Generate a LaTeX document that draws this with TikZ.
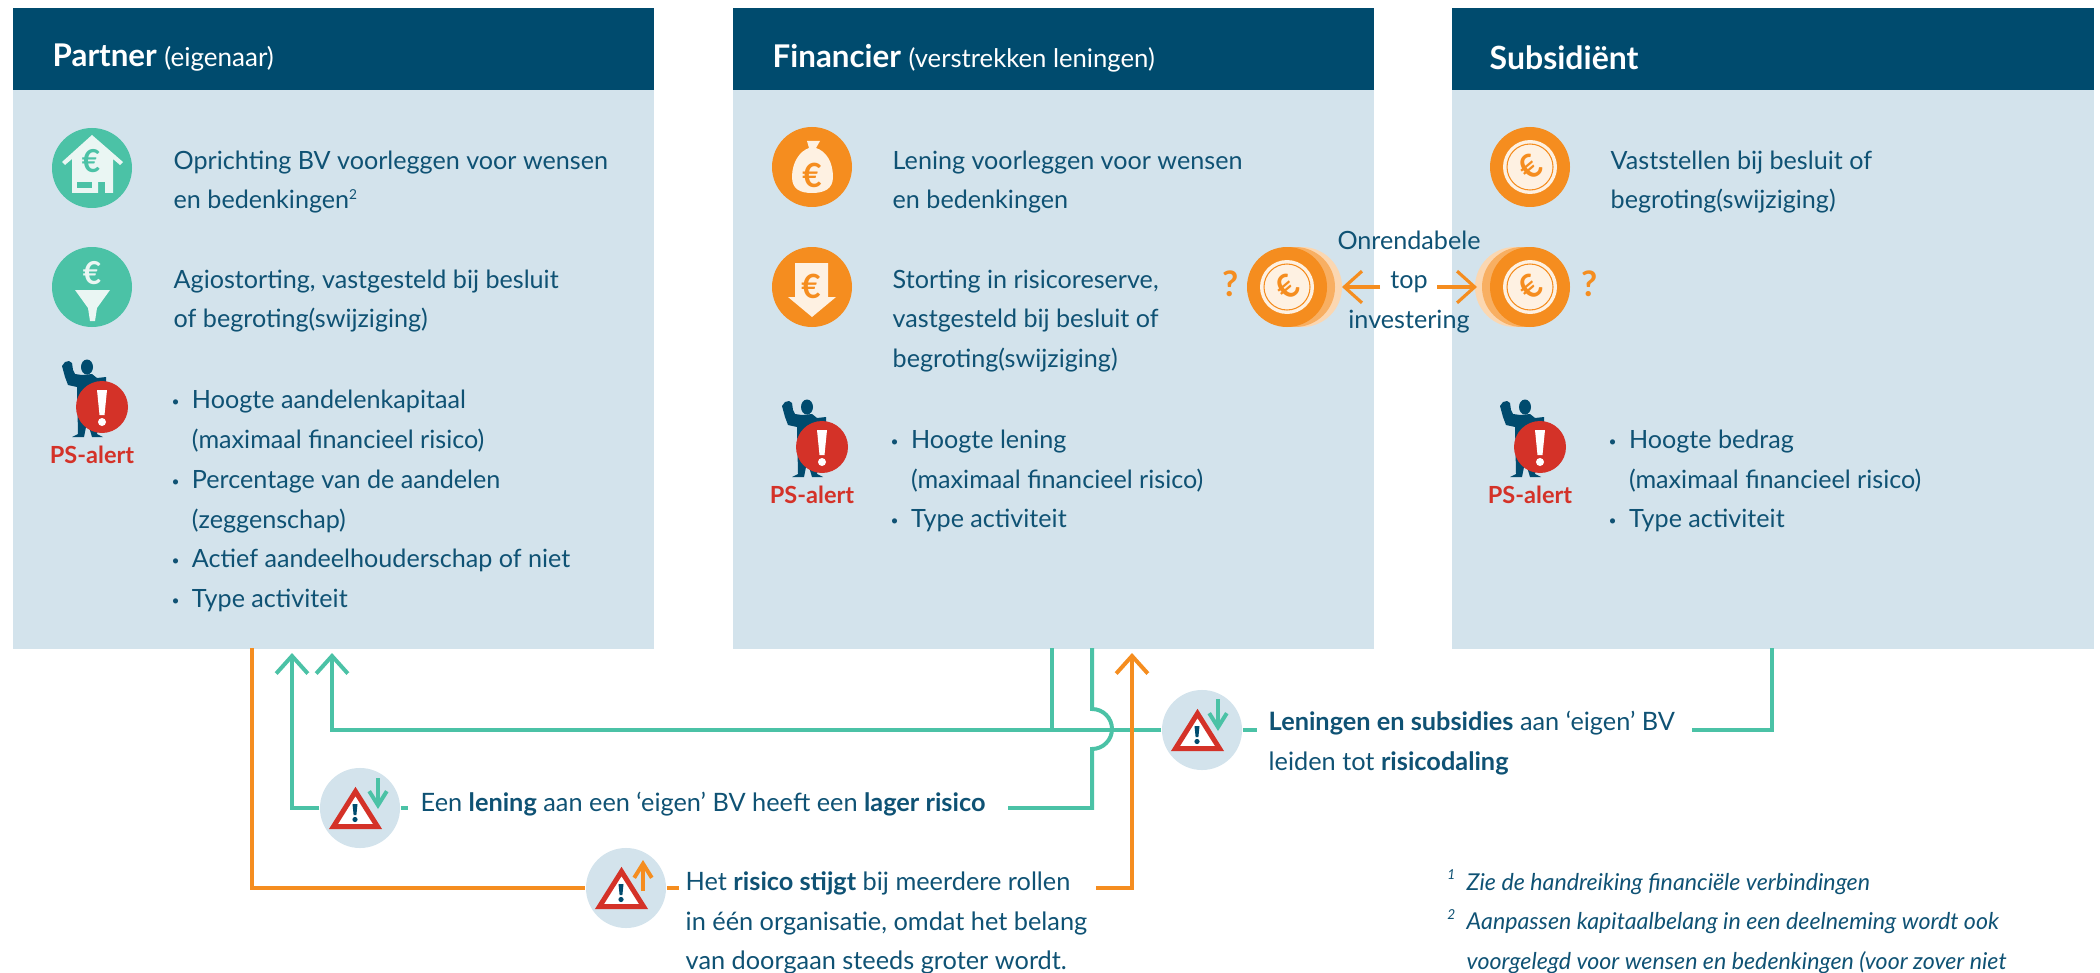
\documentclass[tikz,border=0pt]{standalone}
\usepackage{fontspec}
\setmainfont{Lato}
\usetikzlibrary{arrows.meta}
\definecolor{headblue}{HTML}{004B6E}
\definecolor{boxblue}{HTML}{D3E3EC}
\definecolor{textblue}{HTML}{0F5274}
\definecolor{lineGreen}{HTML}{4BC2A6}
\definecolor{lineOrange}{HTML}{F58D1F}
\definecolor{alertred}{HTML}{D43228}
\definecolor{cream}{HTML}{FEF1E2}
\definecolor{paleteal}{HTML}{EAF6F3}
\newcommand{\bul}{\makebox[5.2pt][l]{\hspace*{-.6pt}\raisebox{.6pt}{\scalebox{.55}{\textbullet}}}}
\newcommand{\ind}{\hspace*{5.2pt}}
\newcommand{\marknum}[1]{\raisebox{2.6pt}{\fontsize{3.9}{4}\selectfont #1}}
\tikzset{
  panel/.style={fill=boxblue,anchor=north west,minimum width=6.41cm,minimum height=6.41cm,inner sep=0},
  headbar/.style={fill=headblue,anchor=north west,minimum width=6.41cm,minimum height=.82cm,inner sep=0},
  headtext/.style={text=white,anchor=west,inner sep=0,font=\fontsize{8.6}{11}\selectfont},
  body/.style={text=textblue,anchor=west,align=left,inner sep=0,font=\fontsize{7.15}{11.34}\selectfont},
  lowtext/.style={body,font=\fontsize{7.2}{11.34}\selectfont},
  note/.style={body,font=\fontsize{6.6}{11.34}\selectfont\itshape},
  midtext/.style={body,anchor=center,align=center},
  euro/.style={inner sep=0,font=\bfseries\fontsize{#1}{#1}\selectfont},
  warn/.style={circle,fill=boxblue,minimum size=.8cm,inner sep=0},
  greenline/.style={draw=lineGreen,line width=1.13pt},
  orangeline/.style={draw=lineOrange,line width=1.13pt},
  barb/.style={-{Straight Barb[length=5pt,width=9pt]}},
  smallbarb/.style={-{Straight Barb[length=4pt,width=5pt]}},
  house/.pic={
    \fill[lineGreen] (0,0) circle[radius=40];
    \fill[paleteal] (0,-33)--(31,-6)--(28,-3)--(21,-9)--(21,25)--(13,25)--(13,14)--(6,14)--(6,25)--(-20,25)--(-20,-9)--(-27,-3)--(-30,-6)--cycle;
    \fill[lineGreen] (-15,14) rectangle (0,20);
    \node[euro=9,text=lineGreen] (-e) at (-1,-7) {€};
  },
  funnel/.pic={
    \fill[lineGreen] (0,0) circle[radius=40];
    \fill[paleteal] (-17,3)--(18,3)--(5,21)--(3,34)--(-2,34)--(-4,21)--cycle;
    \node[euro=9,text=paleteal] (-e) at (0,-14) {€};
  },
  moneybag/.pic={
    \fill[lineOrange] (0,0) circle[radius=40];
    \fill[cream] (-5,-26)--(8,-26)--(4,-19) .. controls (14,-16) and (21,-5) .. (21,10) .. controls (21,22) and (12,26) .. (0,26) .. controls (-12,26) and (-20,22) .. (-20,10) .. controls (-20,-5) and (-12,-16) .. (-3,-19)--cycle;
    \node[euro=9.5,text=lineOrange] (-e) at (0,8) {€};
  },
  downarrow/.pic={
    \fill[lineOrange] (0,0) circle[radius=40];
    \fill[cream] (-17,-24)--(16,-24)--(16,10)--(24,10)--(0,30)--(-24,10)--(-17,10)--cycle;
    \node[euro=9.5,text=lineOrange] (-e) at (-1,-1) {€};
  },
  coinface/.pic={
    \fill[lineOrange] (0,0) circle[radius=40];
    \fill[cream] (0,0) circle[radius=27];
    \draw[lineOrange,line width=.3pt] (0,0) circle[radius=23];
    \node[euro=9.5,text=lineOrange,rotate=40] (-e) at (0,0) {€};
  },
  coinstack/.pic={
    \fill[lineOrange!35!white] (15,0) circle[radius=40];
    \fill[lineOrange!70!white] (8,0) circle[radius=40];
    \pic (-face) at (0,0) {coinface};
  },
  alertman/.pic={
    \fill[headblue] (-5,-40) ellipse[x radius=6,y radius=7.5];
    \fill[headblue] (-30,-41)--(-27,-45)--(-23,-46)--(-20,-44)--(-19,-37)--(-17,-33)--(-10,-32)--(0,-33)--(5,-29)--(14,-30)--(14,-25)--(6,-20)--(6,20)--(5,27)--(11,30)--(0,30)--(-3,20)--(-6,20)--(-8,30)--(-20,30)--(-14,27)--(-15,-20)--(-24,-22)--(-27,-30)--cycle;
    \fill[alertred] (10,0) circle[radius=26];
    \fill[white] (5,-17)--(15,-17)--(12.5,8)--(7.5,8)--cycle;
    \fill[white] (10,15) circle[radius=4];
    \node[inner sep=0,text=alertred,font=\bfseries\fontsize{6.7}{8}\selectfont] (-label) at (0,48) {PS-alert};
  },
  triangle/.pic={
    \draw[alertred,fill=white,line width=1.42pt] (-4.5,-16.5)--(17.5,18.5)--(-26.5,18.5)--cycle;
    \fill[headblue] (-7.5,-4)--(-2.5,-4)--(-3.6,7)--(-6.4,7)--cycle;
    \fill[headblue] (-5,11.5) circle[radius=2.6];
  },
}
\begin{document}
\begin{tikzpicture}[x=.01cm,y=-.01cm]
\useasboundingbox (0,0) rectangle (2100,973);
% panels
\node[panel] (partner) at (12,7) {};
\node[panel] (financier) at (732,7) {};
\node[panel,minimum width=6.42cm] (subsidient) at (1451,7) {};
\node[headbar] (partnerhead) at (12,7) {};
\node[headbar] (financierhead) at (732,7) {};
\node[headbar,minimum width=6.42cm] (subsidienthead) at (1451,7) {};
\node[headtext] (partnertitle) at (52,58) {\fontsize{8.9}{11}\selectfont\bfseries Partner \fontsize{7.4}{11}\selectfont\mdseries (eigenaar)};
\node[headtext] (financiertitle) at (772,58) {\fontsize{8.9}{11}\selectfont\bfseries Financier \fontsize{7.3}{11}\selectfont\mdseries (verstrekken leningen)};
\node[headtext] (subsidienttitle) at (1489,58) {\fontsize{9.1}{11}\selectfont\bfseries Subsidiënt};
% partner
\pic (iconhouse) at (92,168) {house};
\pic (iconfunnel) at (92,287) {funnel};
\pic (manpartner) at (92,407) {alertman};
\node[body] (partnerone) at (173,182) {Oprichting BV voorleggen voor wensen\\en bedenkingen\marknum{2}};
\node[body] (partnertwo) at (173,301) {Agiostorting, vastgesteld bij besluit\\of begroting(swijziging)};
\node[body] (partnerlist) at (173,501) {\bul Hoogte aandelenkapitaal\\\ind (maximaal financieel risico)\\\bul Percentage van de aandelen\\\ind (zeggenschap)\\\bul Actief aandeelhouderschap of niet\\\bul Type activiteit};
% financier
\pic (iconbag) at (812,167) {moneybag};
\pic (icondown) at (812,287) {downarrow};
\pic (manfinancier) at (812,447) {alertman};
\node[body] (financierone) at (892,182) {Lening voorleggen voor wensen\\en bedenkingen};
\node[body] (financiertwo) at (892,321) {Storting in risicoreserve,\\vastgesteld bij besluit of\\begroting(swijziging)};
\node[body] (financierlist) at (892,481) {\bul Hoogte lening\\\ind (maximaal financieel risico)\\\bul Type activiteit};
% subsidient
\pic (coinone) at (1530,167) {coinface};
\pic (mansubsidient) at (1530,447) {alertman};
\node[body] (subsidientone) at (1610,182) {Vaststellen bij besluit of\\begroting(swijziging)};
\node[body] (subsidientlist) at (1610,481) {\bul Hoogte bedrag\\\ind (maximaal financieel risico)\\\bul Type activiteit};
% onrendabele top
\pic (coinleft) at (1287,287) {coinstack};
\pic[xscale=-1] (coinright) at (1530,287) {coinstack};
\node[text=lineOrange,inner sep=0,font=\bfseries\fontsize{10}{10}\selectfont] (askleft) at (1231,284) {?};
\node[text=lineOrange,inner sep=0,font=\bfseries\fontsize{10}{10}\selectfont] (askright) at (1590,284) {?};
\node[midtext] (onrendabel) at (1409,282) {Onrendabele\\top\\investering};
\coordinate (leftend) at (1342,287);
\coordinate (rightend) at (1477,287);
\coordinate (leftstart) at (1380,287);
\coordinate (rightstart) at (1437,287);
\draw[orangeline,line width=.9pt,barb] (leftstart) -- (leftend);
\draw[orangeline,line width=.9pt,barb] (rightstart) -- (rightend);
% warnings
\node[warn] (warnlening) at (360,808) {};
\node[warn] (warnstijgt) at (626,888) {};
\node[warn] (warndaling) at (1202,730) {};
\pic at (warnlening) {triangle};
\pic at (warnstijgt) {triangle};
\pic at (warndaling) {triangle};
\coordinate (dlfrom) at (378,778);
\coordinate (dlto) at (378,809);
\coordinate (ddfrom) at (1218,699);
\coordinate (ddto) at (1218,731);
\coordinate (ssfrom) at (643,891);
\coordinate (ssto) at (643,860);
\draw[greenline,smallbarb] (dlfrom) -- (dlto);
\draw[greenline,smallbarb] (ddfrom) -- (ddto);
\draw[orangeline,smallbarb] (ssfrom) -- (ssto);
% labels under the panels
\node[lowtext] (leningtext) at (420,804) {Een \textbf{lening} aan een ‘eigen’ BV heeft een \textbf{lager risico}};
\node[lowtext] (stijgttext) at (685,923) {Het \textbf{risico stijgt} bij meerdere rollen\\in één organisatie, omdat het belang\\van doorgaan steeds groter wordt.};
\node[lowtext] (dalingtext) at (1268,743) {\textbf{Leningen en subsidies} aan ‘eigen’ BV\\leiden tot \textbf{risicodaling}};
\node[note,anchor=east] (markone) at (1456,879) {\marknum{1}};
\node[note,anchor=east] (marktwo) at (1456,919) {\marknum{2}};
\node[note] (noteone) at (1466,884) {Zie de handreiking financiële verbindingen};
\node[note] (notetwo) at (1466,943) {Aanpassen kapitaalbelang in een deelneming wordt ook\\voorgelegd voor wensen en bedenkingen (voor zover niet};
% connectors
\coordinate (partnertipa) at (292,653);
\coordinate (partnertipb) at (332,653);
\coordinate (financiertip) at (1132,653);
\coordinate (orangedown) at (252,648);
\coordinate (branchtop) at (1052,648);
\coordinate (branchfoot) at (1052,730);
\coordinate (loopTop) at (1092,648);
\coordinate (bumpb) at (1092,749);
\coordinate (leningend) at (1092,808);
\coordinate (leningstart) at (1008,808);
\coordinate (warnleningout) at (408,808);
\coordinate (warndalingout) at (1257,730);
\coordinate (subsend) at (1772,648);
\coordinate (subsstart) at (1692,730);
\coordinate (warnstijgtout) at (679,888);
\coordinate (stijgtstart) at (1096,888);
\draw[greenline,barb] (warnlening.west) -| (partnertipa);
\draw[greenline] (warnlening.east) -- (warnleningout);
\draw[greenline,barb] (warndaling.west) -| (partnertipb);
\draw[greenline] (warndaling.east) -- (warndalingout);
\draw[greenline] (branchtop) -- (branchfoot);
\draw[greenline] (leningstart) -- (leningend) -- (bumpb) arc[start angle=90,end angle=-90,radius=20] -- (loopTop);
\draw[greenline] (subsstart) -| (subsend);
\draw[orangeline] (orangedown) |- (warnstijgt.west);
\draw[orangeline] (warnstijgt.east) -- (warnstijgtout);
\draw[orangeline,barb] (stijgtstart) -| (financiertip);
\end{tikzpicture}
\end{document}
